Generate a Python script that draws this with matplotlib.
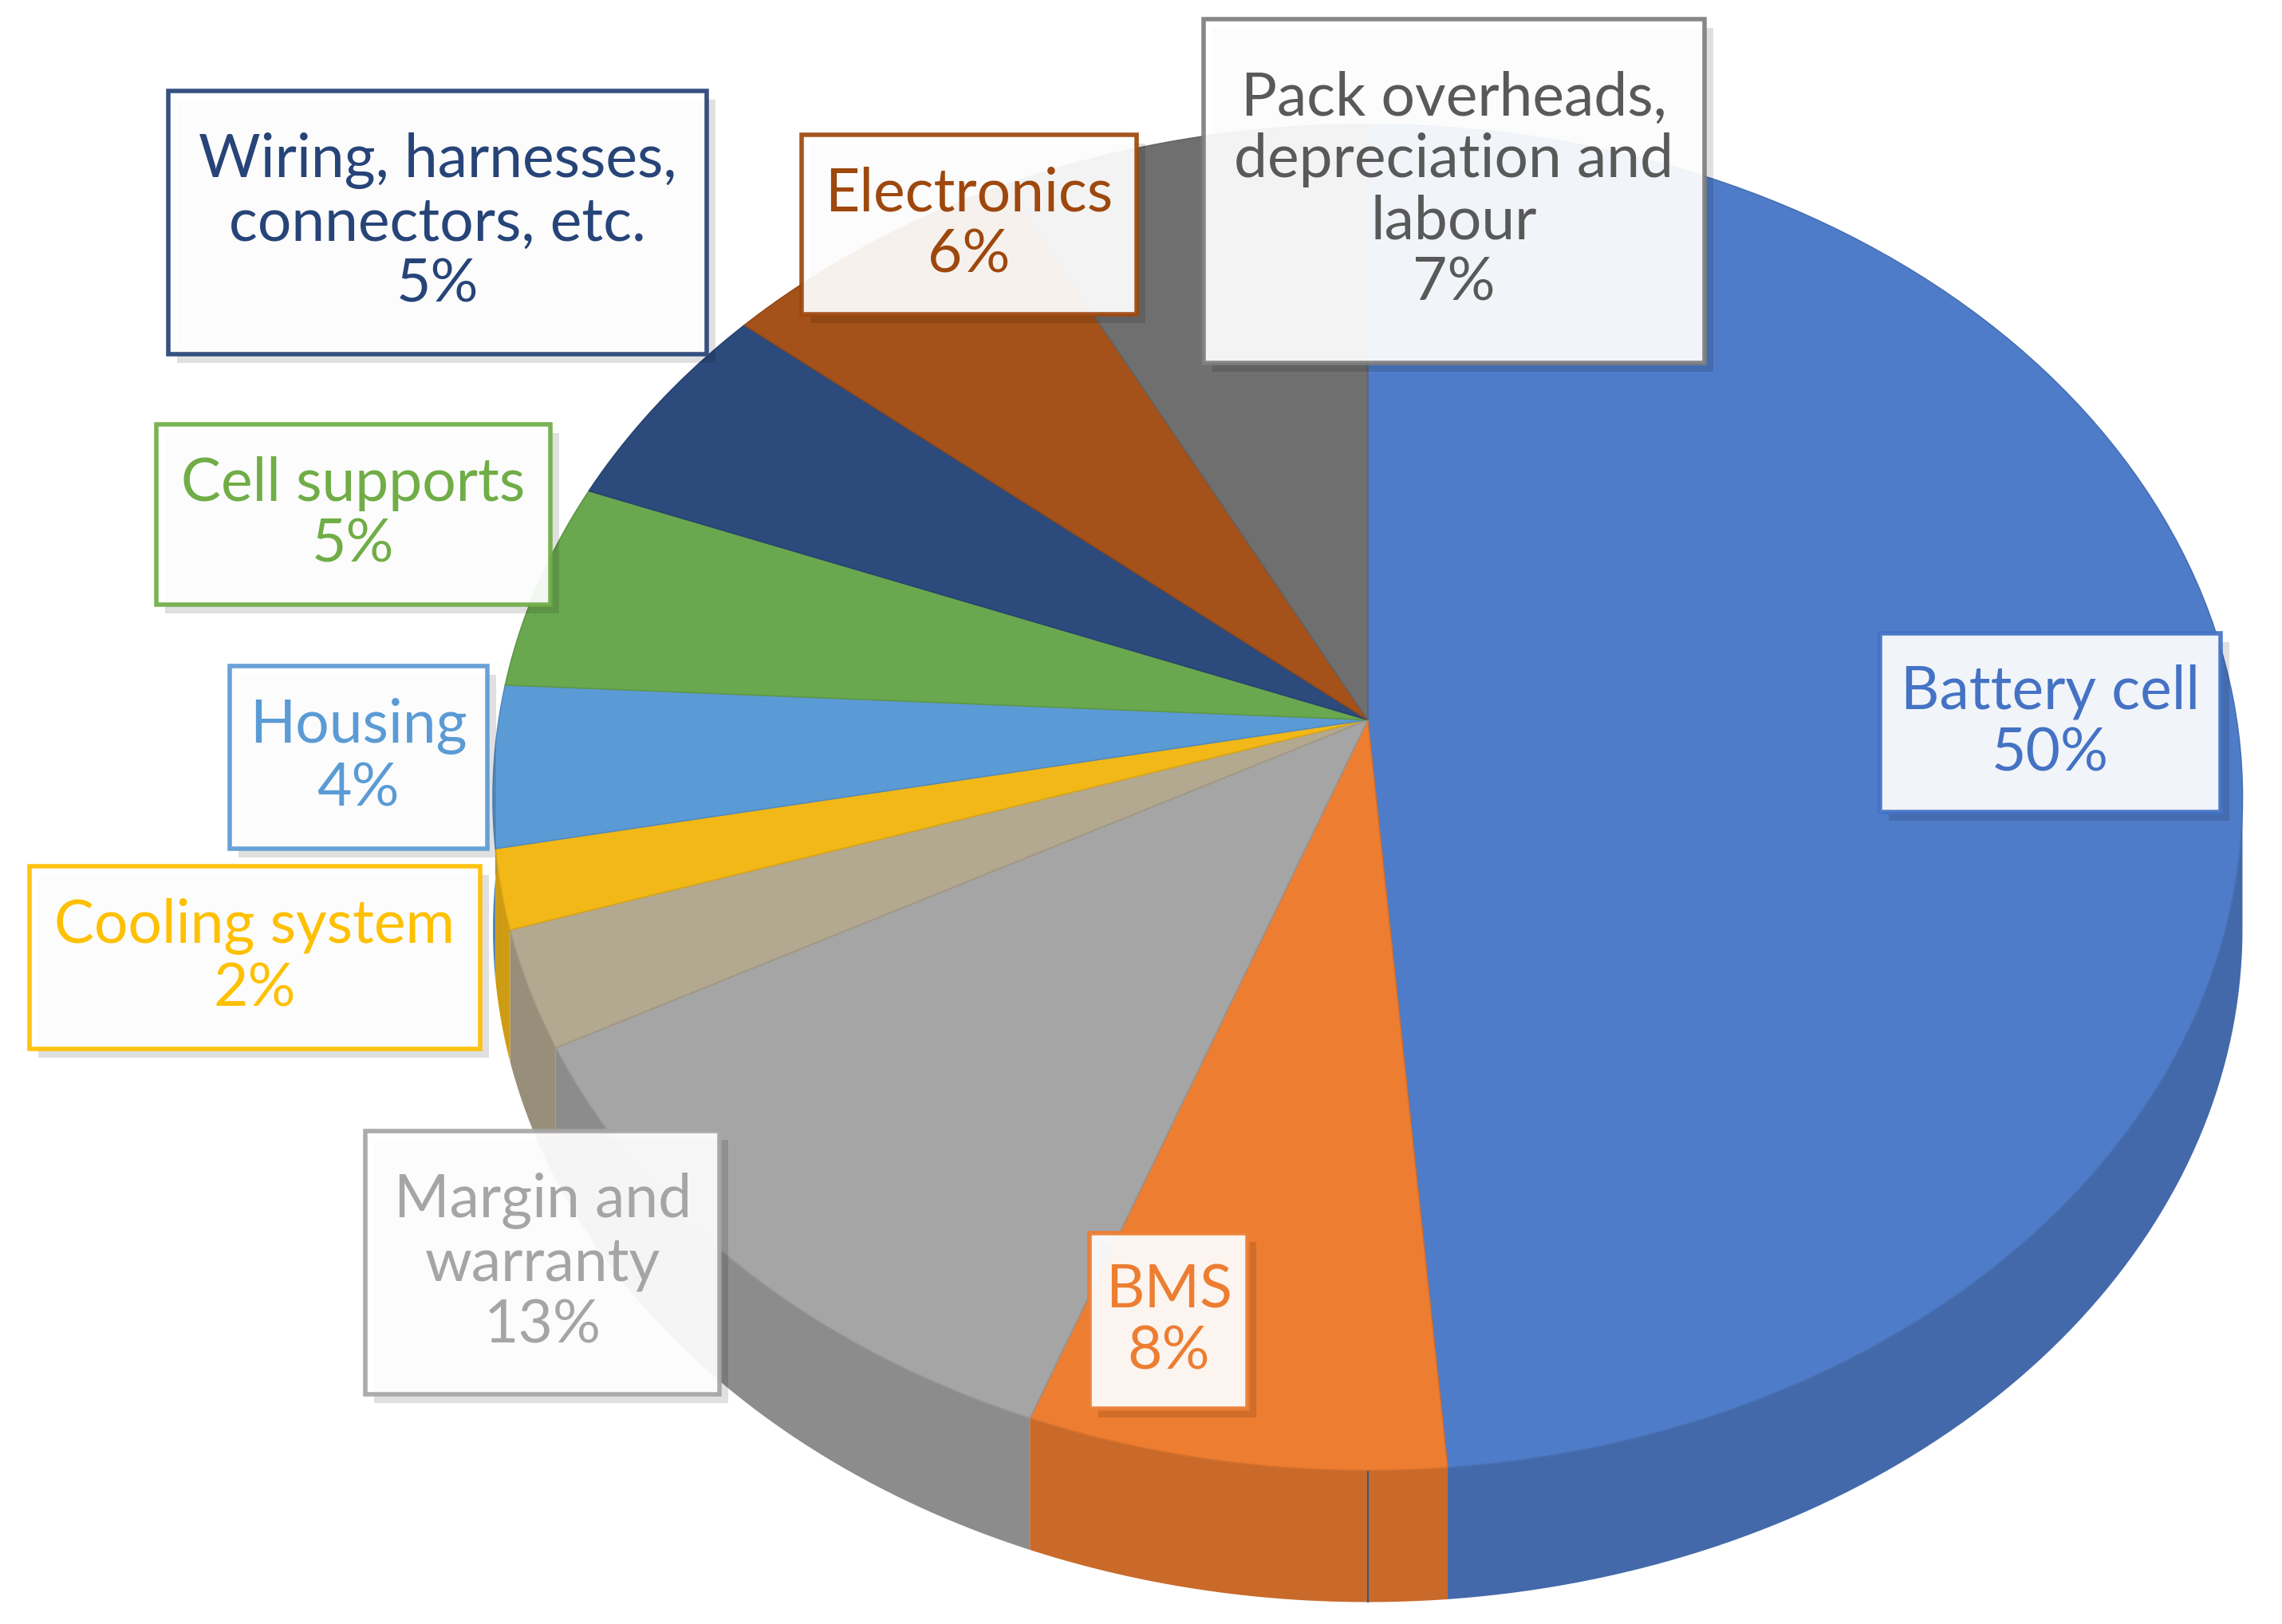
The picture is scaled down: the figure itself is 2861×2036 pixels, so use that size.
import numpy as np
import matplotlib.pyplot as plt
from matplotlib.patches import Polygon, Rectangle
import matplotlib.colors as mc

categories = ["Battery cell", "BMS", "Margin and\nwarranty", "", "Cooling system", "Housing",
              "Cell supports", "Wiring, harnesses,\nconnectors, etc.", "Electronics",
              "Pack overheads,\ndepreciation and\nlabour"]
values = [50, 8, 13, 3, 2, 4, 5, 5, 6, 7]          # slice sizes (tan slice unlabeled)
pct_labels = ["50%", "8%", "13%", "", "2%", "4%", "5%", "5%", "6%", "7%"]
colors = ["#4F7CC8", "#ED7D31", "#A5A5A5", "#B3A890", "#F2B817", "#5B9BD5",
          "#6AA84F", "#2C4A7C", "#A4511A", "#6F6F6F"]
text_colors = ["#4472C4", "#ED7D31", "#A5A5A5", None, "#FFC000", "#5B9BD5",
               "#70AD47", "#264478", "#9E480E", "#595959"]
# label box (x0, y0, x1, y1) in reference px
boxes = [(1285, 433, 1518, 555), (745, 843, 853, 963), (250, 773, 492, 953), None,
         (20, 592, 328, 717), (157, 455, 333, 580), (107, 290, 376, 413),
         (115, 62, 483, 242), (548, 92, 777, 215), (823, 13, 1165, 248)]

W, H = 1560, 1110
fig = plt.figure(figsize=(28.61, 20.36), dpi=100)
ax = fig.add_axes([0, 0, 1, 1])
ax.set_xlim(0, W); ax.set_ylim(H, 0); ax.axis("off")

cx, cy, rx, ry, depth = 935, 545, 598, 460, 90
ax_apex = (935, 492)

def pt(t):
    return cx + rx*np.cos(np.radians(t)), cy + ry*np.sin(np.radians(t))

fr = np.array(values) / sum(values)
starts = -90 + 360*np.concatenate([[0], np.cumsum(fr)[:-1]])
ends = starts + 360*fr

def darker(c, f):
    r = np.array(mc.to_rgb(c))
    return tuple(r*f)

# side walls (front half: angles 0..180)
for s, e, c in zip(starts, ends, colors):
    a, b = max(s, 0), min(e, 185)
    if b <= a:
        continue
    ts = np.linspace(a, b, 80)
    top = [pt(t) for t in ts]
    bot = [(x, y+depth) for x, y in top[::-1]]
    ax.add_patch(Polygon(top+bot, closed=True, fc=darker(c, 0.85), ec="none", zorder=1))
# vertical seam at bottom
x0, y0 = pt(90)
ax.plot([x0, x0], [y0, y0+depth], color=darker(colors[0], 0.7), lw=1.5, zorder=2)

# top faces
for s, e, c in zip(starts, ends, colors):
    ts = np.linspace(s, e, 120)
    poly = [ax_apex] + [pt(t) for t in ts]
    ax.add_patch(Polygon(poly, closed=True, fc=c, ec=darker(c, 0.9), lw=1.2, zorder=3))

# labels
for cat, p, tc, bx in zip(categories, pct_labels, text_colors, boxes):
    if bx is None:
        continue
    x0, y0, x1, y1 = bx
    ax.add_patch(Rectangle((x0+6, y0+6), x1-x0, y1-y0, fc="#000000", alpha=0.12, ec="none", zorder=4))
    ax.add_patch(Rectangle((x0, y0), x1-x0, y1-y0, fc="white", alpha=0.93,
                           ec=tc if tc != "#595959" else "#7F7F7F", lw=4, zorder=5))
    ax.text((x0+x1)/2, (y0+y1)/2, cat + "\n" + p, ha="center", va="center",
            color=tc, fontsize=54, family=["Lato", "DejaVu Sans"], linespacing=1.15, zorder=6)

fig.savefig("out.png", dpi=100)
